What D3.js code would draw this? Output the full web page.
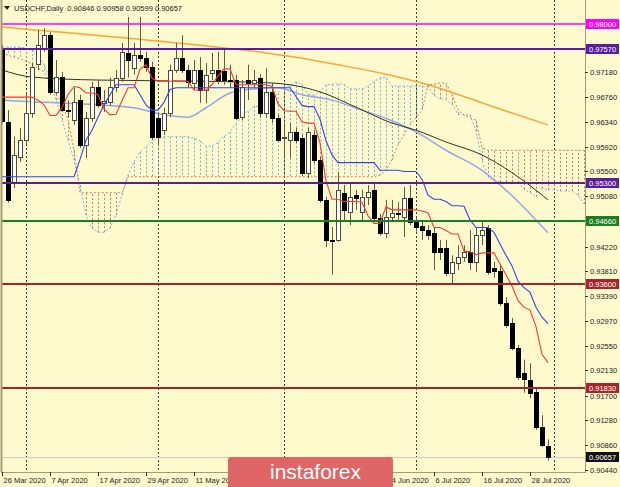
<!DOCTYPE html>
<html><head><meta charset="utf-8">
<script src="https://cdn.jsdelivr.net/npm/d3@7/dist/d3.min.js"></script>
<style>html,body{margin:0;padding:0;background:#fffacd;overflow:hidden}svg{display:block}text{font-family:"Liberation Sans",Arial,sans-serif}</style>
</head><body>
<svg id="chart" width="620" height="487"></svg>
<script>
// ---------- DATA (USDCHF Daily, bar index 0 = 26 Mar 2020) ----------
const open=[0.9756,0.9634,0.9531,0.9575,0.9603,0.9649,0.9731,0.9759,0.9781,0.9685,
0.9710,0.9654,0.9637,0.9671,0.9595,0.9641,0.9693,0.9666,0.9668,0.9693,
0.9709,0.9751,0.9725,0.9747,0.9742,0.9727,0.9641,0.9620,0.9649,0.9722,
0.9742,0.9722,0.9700,0.9722,0.9688,0.9717,0.9722,0.9720,0.9705,0.9705,
0.9642,0.9705,0.9700,0.9709,0.9649,0.9685,0.9641,0.9607,0.9603,0.9617,
0.9607,0.9548,0.9612,0.9570,0.9502,0.9434,0.9434,0.9514,0.9481,0.9510,
0.9481,0.9507,0.9519,0.9471,0.9446,0.9473,0.9480,0.9473,0.9505,0.9464,
0.9458,0.9451,0.9446,0.9420,0.9420,0.9378,0.9395,0.9405,0.9414,0.9397,
0.9442,0.9454,0.9386,0.9381,0.9327,0.9293,0.9251,0.9208,0.9197,0.9176,
0.9117,0.90846];
const high=[0.9764,0.9654,0.9609,0.9624,0.9683,0.9734,0.9790,0.9793,0.9786,0.9739,
0.9719,0.9671,0.9692,0.9680,0.9651,0.9702,0.9705,0.9688,0.9709,0.9722,
0.9768,0.9812,0.9768,0.9812,0.9753,0.9736,0.9651,0.9658,0.9731,0.9768,
0.9781,0.9731,0.9739,0.9744,0.9734,0.9751,0.9753,0.9756,0.9731,0.9714,
0.9705,0.9731,0.9722,0.9715,0.9725,0.9700,0.9646,0.9632,0.9632,0.9624,
0.9612,0.9624,0.9620,0.9575,0.9507,0.9456,0.9549,0.9527,0.9531,0.9519,
0.9519,0.9527,0.9532,0.9478,0.9502,0.9502,0.9498,0.9524,0.9527,0.9471,
0.9468,0.9459,0.9454,0.9434,0.9434,0.9408,0.9425,0.9425,0.9451,0.9454,
0.9464,0.9459,0.9397,0.9392,0.9337,0.9302,0.9256,0.9231,0.9225,0.9183,
0.9137,0.90958];
const low=[0.9631,0.9497,0.9522,0.9566,0.9595,0.9641,0.9722,0.9753,0.9680,0.9680,
0.9651,0.9641,0.9629,0.9590,0.9573,0.9634,0.9658,0.9651,0.9661,0.9685,
0.9702,0.9709,0.9714,0.9736,0.9719,0.9603,0.9595,0.9612,0.9642,0.9717,
0.9717,0.9692,0.9688,0.9666,0.9666,0.9705,0.9698,0.9697,0.9692,0.9637,
0.9637,0.9671,0.9692,0.9641,0.9642,0.9632,0.9600,0.9575,0.9573,0.9598,
0.9542,0.9539,0.9564,0.9497,0.9422,0.9375,0.9431,0.9468,0.9459,0.9485,
0.9464,0.9493,0.9464,0.9441,0.9437,0.9464,0.9468,0.9439,0.9459,0.9448,
0.9434,0.9434,0.9383,0.9400,0.9373,0.9361,0.9383,0.9397,0.9383,0.9380,
0.9425,0.9375,0.9370,0.9322,0.9285,0.9247,0.9197,0.9175,0.9166,0.9112,
0.9083,0.90599];
const close=[0.9636,0.9502,0.9578,0.9603,0.9649,0.9727,0.9764,0.9781,0.9685,0.9710,
0.9654,0.9653,0.9668,0.9595,0.9641,0.9693,0.9663,0.9670,0.9693,0.9709,
0.9753,0.9739,0.9747,0.9742,0.9727,0.9609,0.9609,0.9649,0.9722,0.9742,
0.9722,0.9702,0.9722,0.9688,0.9714,0.9722,0.9705,0.9705,0.9703,0.9641,
0.9693,0.9700,0.9705,0.9649,0.9685,0.9641,0.9603,0.9609,0.9617,0.9603,
0.9548,0.9617,0.9570,0.9502,0.9434,0.9432,0.9519,0.9485,0.9507,0.9505,
0.9507,0.9515,0.9471,0.9446,0.9473,0.9480,0.9478,0.9505,0.9464,0.9456,
0.9451,0.9442,0.9414,0.9414,0.9378,0.9397,0.9405,0.9414,0.9397,0.9442,
0.9451,0.9380,0.9381,0.9327,0.9290,0.9251,0.9202,0.9197,0.9175,0.9117,
0.9086,0.90657];

// Ichimoku
const tenkan=[0.9676,0.9676,0.9676,0.9676,0.9676,0.9676,0.9671,0.9663,0.9645,0.9645,
0.9658,0.9680,0.9694,0.9692,0.9683,0.9683,0.9680,0.9656,0.9646,0.9647,
0.9670,0.9692,0.9692,0.9723,0.9731,0.9708,0.9703,0.9703,0.9703,0.9703,
0.9703,0.9703,0.9688,0.9688,0.9688,0.9697,0.9712,0.9724,0.9724,0.9697,
0.9697,0.9697,0.9697,0.9697,0.9697,0.9694,0.9665,0.9653,0.9652,0.9652,
0.9634,0.9632,0.9632,0.9598,0.9534,0.9503,0.9503,0.9499,0.9499,0.9499,
0.9498,0.9475,0.9462,0.9462,0.9490,0.9485,0.9485,0.9485,0.9485,0.9485,
0.9483,0.9480,0.9455,0.9455,0.9450,0.9444,0.9444,0.9415,0.9414,0.9409,
0.9412,0.9412,0.9412,0.9393,0.9375,0.9356,0.9331,0.9320,0.9315,0.9287,
0.9240,0.9226];
const kijun=[0.9541,0.9541,0.9541,0.9541,0.9541,0.9541,0.9541,0.9541,0.9541,0.9541,
0.9541,0.9541,0.9541,0.9570,0.9603,0.9620,0.9642,0.9663,0.9680,0.9697,
0.9697,0.9697,0.9697,0.9680,0.9663,0.9654,0.9654,0.9667,0.9689,0.9692,
0.9692,0.9692,0.9692,0.9692,0.9692,0.9692,0.9692,0.9692,0.9692,0.9692,
0.9692,0.9692,0.9692,0.9692,0.9692,0.9692,0.9692,0.9692,0.9692,0.9677,
0.9662,0.9660,0.9660,0.9639,0.9602,0.9578,0.9565,0.9565,0.9565,0.9565,
0.9565,0.9565,0.9565,0.9552,0.9552,0.9552,0.9552,0.9550,0.9550,0.9550,
0.9537,0.9510,0.9503,0.9503,0.9499,0.9492,0.9492,0.9491,0.9468,0.9455,
0.9455,0.9455,0.9447,0.9427,0.9408,0.9390,0.9364,0.9353,0.9345,0.9320,
0.9303,0.9292];
// Senkou spans, already shifted 26 bars forward (index = bar position on chart)
const spanA=[0.9761,0.9761,0.9761,0.9761,0.9759,0.9756,0.9747,0.9731,0.9705,0.9671,
0.9637,0.9603,0.9570,0.9527,0.9476,0.9454,0.9447,0.9447,0.9454,0.9476,
0.9510,0.9544,0.9566,0.9583,0.9592,0.9600,0.9609,0.9609,0.9609,0.9609,
0.9609,0.9609,0.9606,0.9602,0.9593,0.9593,0.9599,0.9610,0.9617,0.9631,
0.9643,0.9652,0.9661,0.9659,0.9663,0.9672,0.9683,0.9695,0.9695,0.9702,
0.9697,0.9681,0.9679,0.9685,0.9697,0.9698,0.9698,0.9698,0.9690,0.9690,
0.9690,0.9695,0.9702,0.9709,0.9709,0.9695,0.9695,0.9695,0.9695,0.9695,
0.9695,0.9693,0.9679,0.9673,0.9672,0.9664,0.9647,0.9646,0.9646,0.9619,
0.9568,0.9541,0.9534,0.9532,0.9532,0.9532,0.9531,0.9520,0.9514,0.9507,
0.9521,0.9519,0.9519,0.9517,0.9517,0.9517,0.9510,0.9495];
const spanB=[0.9751,0.9747,0.9744,0.9741,0.9737,0.9732,0.9725,0.9719,0.9697,0.9680,
0.9666,0.9637,0.9586,0.9514,0.9514,0.9514,0.9514,0.9514,0.9514,0.9514,
0.9514,0.9541,0.9541,0.9541,0.9541,0.9541,0.9541,0.9541,0.9541,0.9541,
0.9541,0.9541,0.9541,0.9541,0.9541,0.9541,0.9541,0.9541,0.9541,0.9541,
0.9541,0.9541,0.9541,0.9541,0.9541,0.9541,0.9541,0.9541,0.9541,0.9541,
0.9541,0.9541,0.9541,0.9541,0.9541,0.9541,0.9541,0.9541,0.9541,0.9541,
0.9541,0.9541,0.9541,0.9544,0.9552,0.9570,0.9595,0.9612,0.9629,0.9641,
0.9654,0.9697,0.9698,0.9700,0.9700,0.9680,0.9654,0.9646,0.9641,0.9637,
0.9590,0.9586,0.9586,0.9586,0.9586,0.9586,0.9586,0.9586,0.9586,0.9586,
0.9586,0.9586,0.9586,0.9586,0.9586,0.9586,0.9586,0.9586];

// Moving averages sampled at bar index: [bar, price]
const maOrange=[[0,0.9795],[11,0.9785],[22,0.9775],[33,0.9764],[44,0.9751],[50,0.9742],[57,0.9729],[64,0.9715],[71,0.9697],[79,0.9670],[85,0.9649],[91,0.9629]];
const maDark=[[0,0.9722],[5,0.9710],[16,0.9705],[33,0.9703],[45,0.9700],[48,0.9697],[53,0.9685],[59,0.9659],[65,0.9632],[69,0.9620],[74,0.9600],[80,0.9578],[85,0.9548],[91,0.9502]];
const maLight=[[0,0.9671],[5,0.9668],[16,0.9663],[22,0.9658],[27,0.9646],[31,0.9642],[34,0.9658],[38,0.9683],[42,0.9690],[46,0.9692],[50,0.9680],[55,0.9671],[60,0.9654],[65,0.9636],[69,0.9617],[74,0.9586],[80,0.9552],[85,0.9509],[91,0.9446]];

// Horizontal levels
const levels=[0.98000,0.97570,0.95300,0.94660,0.93600,0.91830];
const bidPrice=0.90657;
const priceTicks=[0.97180,0.96760,0.96340,0.95920,0.95500,0.95080,0.94220,0.93810,0.93390,0.92970,0.92550,0.92130,0.91700,0.91280,0.90860,0.90440];
const dateTickBars=[0,8,16,24,32,40,48,56,64,72,80,88];
const dateTickLabels=["26 Mar 2020","7 Apr 2020","17 Apr 2020","29 Apr 2020","11 May 2020","21 May 2020","2 Jun 2020","12 Jun 2020","24 Jun 2020","6 Jul 2020","16 Jul 2020","28 Jul 2020"];
const monthStartBars=[4,26,47,69,92];
const titleText="USDCHF,Daily  0.90846 0.90958 0.90599 0.90657";

// ---------- STYLE ----------
const levelColors=["#ff00ff","#5a1e9c","#5a1e9c","#1f7d1f","#a3262a","#a3262a"];
const BG="#fffacd", AXIS="#a49d7c";
const WM={x:228,y:457,w:165,h:34};

// ---------- DRAW ----------
const svg=d3.select("#chart");
const PL=2,PR=585,PT=0,PB=472;
const x=d3.scaleLinear().domain([0,91]).range([2,548]);
const y=d3.scaleLinear().domain([0.98,0.9044]).range([24,470]);
const px=v=>Math.round(x(v))+0.5;

svg.append("rect").attr("width",620).attr("height",487).attr("fill",BG);
svg.append("defs").append("clipPath").attr("id","clip").append("rect")
  .attr("x",PL).attr("y",PT).attr("width",PR-PL).attr("height",PB-PT);
const plot=svg.append("g").attr("clip-path","url(#clip)");

// period separators
plot.selectAll(".sep").data(monthStartBars).join("line")
  .attr("x1",px).attr("x2",px).attr("y1",PT).attr("y2",PB)
  .attr("stroke","#3a3a3a").attr("stroke-width",1).attr("stroke-dasharray","2,2");

// bid line
plot.append("line").attr("x1",PL).attr("x2",PR).attr("y1",Math.round(y(bidPrice))+0.5).attr("y2",Math.round(y(bidPrice))+0.5)
  .attr("stroke","#c9c9c9").attr("stroke-width",1);

// cloud hatch
const cloudIdx=d3.range(spanA.length);
plot.selectAll(".hatch").data(cloudIdx).join("line")
  .attr("x1",px).attr("x2",px)
  .attr("y1",i=>y(spanA[i])).attr("y2",i=>y(spanB[i]))
  .attr("stroke",i=>spanA[i]>=spanB[i]?"#74b3e6":"#cc7a6c")
  .attr("stroke-width",1).attr("stroke-dasharray","2,2");
const lineIdx=d3.line().x((d,i)=>x(i)).y(d=>y(d));
plot.append("path").attr("d",lineIdx(spanA)).attr("fill","none").attr("stroke","#74b3e6").attr("stroke-width",1).attr("stroke-dasharray","2,2");
plot.append("path").attr("d",lineIdx(spanB)).attr("fill","none").attr("stroke","#cc7a6c").attr("stroke-width",1).attr("stroke-dasharray","2,2");

// moving averages
const linePair=d3.line().x(d=>x(d[0])).y(d=>y(d[1])).curve(d3.curveMonotoneX);
plot.append("path").attr("d",linePair(maOrange)).attr("fill","none").attr("stroke","#f7a63c").attr("stroke-width",1.5);
plot.append("path").attr("d",linePair(maLight)).attr("fill","none").attr("stroke","#93a6e8").attr("stroke-width",1.5);
plot.append("path").attr("d",linePair(maDark)).attr("fill","none").attr("stroke","#333326").attr("stroke-width",1);

// candles
const bars=d3.range(open.length).map(i=>({i,o:open[i],h:high[i],l:low[i],c:close[i]}));
plot.selectAll(".wick").data(bars).join("line")
  .attr("x1",d=>px(d.i)).attr("x2",d=>px(d.i))
  .attr("y1",d=>y(d.h)).attr("y2",d=>y(d.l))
  .attr("stroke","#5e5b48").attr("stroke-width",1);
plot.selectAll(".body").data(bars).join("rect")
  .attr("x",d=>Math.round(x(d.i))-1.5)
  .attr("width",4)
  .attr("y",d=>Math.round(y(Math.max(d.o,d.c)))+0.5)
  .attr("height",d=>Math.max(1,Math.round(Math.abs(y(d.o)-y(d.c)))))
  .attr("fill",d=>d.c>=d.o?"#ffffff":"#000000")
  .attr("stroke",d=>d.c>=d.o?"#4a4a40":"#000000").attr("stroke-width",1);

// tenkan / kijun
plot.append("path").attr("d",lineIdx(kijun)).attr("fill","none").attr("stroke","#3443f2").attr("stroke-width",1.1);
plot.append("path").attr("d",lineIdx(tenkan)).attr("fill","none").attr("stroke","#f23a32").attr("stroke-width",1.1);

// horizontal levels
plot.selectAll(".lvl").data(levels).join("line")
  .attr("x1",PL).attr("x2",PR)
  .attr("y1",d=>Math.round(y(d))).attr("y2",d=>Math.round(y(d)))
  .attr("stroke",(d,i)=>levelColors[i]).attr("stroke-width",(d,i)=>i===0?1.5:2);

// frame
svg.append("line").attr("x1",PL-0.5).attr("x2",PL-0.5).attr("y1",0).attr("y2",PB).attr("stroke",AXIS).attr("stroke-width",2);
svg.append("line").attr("x1",PR+0.5).attr("x2",PR+0.5).attr("y1",0).attr("y2",PB+1).attr("stroke",AXIS).attr("stroke-width",1);
svg.append("line").attr("x1",PL-1).attr("x2",PR+1).attr("y1",PB+0.5).attr("y2",PB+0.5).attr("stroke",AXIS).attr("stroke-width",1);

// price axis ticks
const pa=svg.append("g");
pa.selectAll(".pt").data(priceTicks).join("line")
  .attr("x1",PR).attr("x2",PR+3).attr("y1",d=>Math.round(y(d))+0.5).attr("y2",d=>Math.round(y(d))+0.5)
  .attr("stroke","#333");
pa.selectAll(".ptl").data(priceTicks).join("text")
  .attr("x",PR+5).attr("y",d=>y(d)+3).attr("font-size",7.5).attr("fill","#222")
  .text(d=>d.toFixed(5));
// level labels
const lab=svg.append("g");
lab.selectAll("rect").data(levels).join("rect")
  .attr("x",PR+1).attr("y",d=>Math.round(y(d))-5).attr("width",33).attr("height",10)
  .attr("fill",(d,i)=>levelColors[i]);
lab.selectAll("text").data(levels).join("text")
  .attr("x",PR+4).attr("y",d=>y(d)+3).attr("font-size",7.5).attr("fill","#ffffff")
  .text(d=>d.toFixed(5));
lab.append("rect").attr("x",PR+1).attr("y",Math.round(y(bidPrice))-5).attr("width",33).attr("height",10).attr("fill","#111");
lab.append("text").attr("x",PR+4).attr("y",y(bidPrice)+3).attr("font-size",7.5).attr("fill","#fff").text(bidPrice.toFixed(5));

// date axis (labels fully covered by the watermark are not drawn, as in the reference)
const da=svg.append("g");
da.selectAll("line").data(dateTickBars).join("line")
  .attr("x1",px).attr("x2",px).attr("y1",PB).attr("y2",PB+4).attr("stroke","#333");
const visibleDates=dateTickBars.map((b,i)=>({b,t:dateTickLabels[i]}))
  .filter(d=>!(x(d.b)>WM.x && x(d.b)+30<WM.x+WM.w));
da.selectAll("text").data(visibleDates).join("text")
  .attr("x",d=>x(d.b)+1.5).attr("y",483).attr("font-size",7.5).attr("fill","#222")
  .text(d=>d.t);

// title
svg.append("path").attr("d","M4,6 L10,6 L7,10 Z").attr("fill","#222");
svg.append("text").attr("x",14).attr("y",10.5).attr("font-size",7.5).attr("fill","#222").attr("xml:space","preserve").text(titleText);

// watermark
const wm=svg.append("g");
wm.append("rect").attr("x",WM.x).attr("y",WM.y).attr("width",WM.w).attr("height",WM.h).attr("rx",3).attr("fill","#e06566");
wm.append("text").attr("x",270).attr("y",479).attr("font-size",21).attr("fill","#ffffff")
  .attr("font-family","'Open Sans',Roboto,sans-serif").attr("font-weight",300).text("instaforex");
</script>
</body></html>
